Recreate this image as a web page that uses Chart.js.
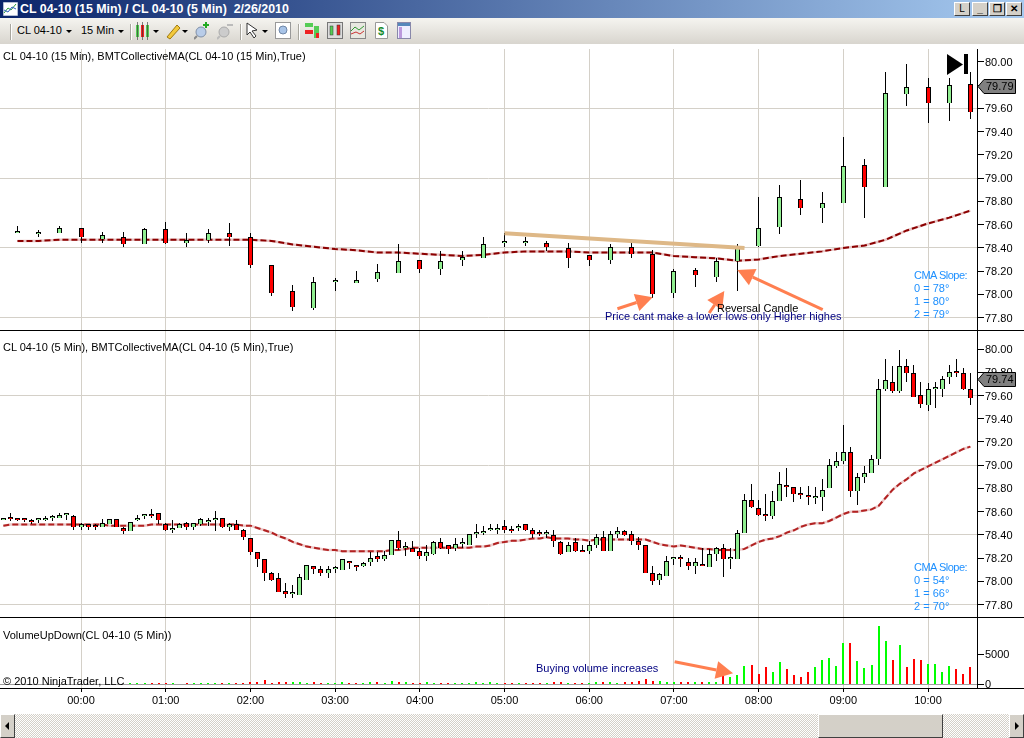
<!DOCTYPE html>
<html>
<head>
<meta charset="utf-8">
<title>CL 04-10</title>
<style>
  html, body { margin:0; padding:0; background:#fff; overflow:hidden; }
  body { width:1024px; height:738px; position:relative; font:11px "Liberation Sans", Arial, sans-serif; color:#000; }
  canvas { position:absolute; left:0; }
  .abs { position:absolute; white-space:nowrap; }
  .note { position:absolute; white-space:nowrap; font-size:11px; line-height:13px; z-index:5; }
  .rule { position:absolute; left:0; width:1024px; height:1px; background:#000; z-index:4; }
  .slope span { letter-spacing:-.5px; }
  #titlebar { position:absolute; left:0; top:0; width:1024px; height:18px; background:linear-gradient(90deg,#0a246a,#a6caf0); }
  #titlebar .t { position:absolute; left:20px; top:2px; color:#fff; font:bold 12.4px "Liberation Sans", Arial, sans-serif; white-space:pre; }
  .wb { position:absolute; top:2px; width:14px; height:12px; background:#d4d0c8; border:1px solid; border-color:#fff #404040 #404040 #fff; font:bold 10px/12px "Liberation Sans", Arial, sans-serif; text-align:center; color:#000; }
  #toolbar { position:absolute; left:0; top:18px; width:1024px; height:26px; background:linear-gradient(#f5f4f0,#d8d5ce); }
  .sep { position:absolute; top:6px; width:1px; height:16px; background:#a8a69e; border-right:1px solid #fff; }
  .dd { position:absolute; top:12px; width:0; height:0; border-left:3px solid transparent; border-right:3px solid transparent; border-top:3px solid #000; }
  #toolbar svg { position:absolute; top:4px; }
  #scroll { position:absolute; left:0; top:714px; width:1024px; height:24px; background:repeating-conic-gradient(#d4d0c8 0 25%, #fff 0 50%) 0 0/2px 2px; }
  .sb { position:absolute; top:0; height:22px; background:#d4d0c8; border:1px solid; border-color:#fff #404040 #404040 #fff; }
</style>
</head>
<body>
<div id="titlebar">
  <svg class="abs" style="left:3px;top:2px" width="15" height="14"><rect width="15" height="14" fill="#fff" stroke="#6a7fa8"/><polyline points="1,11 5,6 8,8 13,2" fill="none" stroke="#2a9a3a"/><polyline points="1,8 5,10 9,5 13,7" fill="none" stroke="#3060c0"/></svg>
  <div class="t">CL 04-10 (15 Min) / CL 04-10 (5 Min)  2/26/2010</div>
  <div class="wb" style="left:954px;background:#d4d0c8;font-weight:normal">L</div>
  <div class="wb" style="left:972px">_</div>
  <div class="wb" style="left:989px">&#10064;</div>
  <div class="wb" style="left:1006px">&#10005;</div>
</div>
<div id="toolbar">
  <div class="sep" style="left:10px"></div>
  <div class="abs" style="left:17px;top:6px;font-size:11px">CL 04-10</div><div class="dd" style="left:66px"></div>
  <div class="abs" style="left:81px;top:6px;font-size:11px">15 Min</div><div class="dd" style="left:118px"></div>
  <div class="sep" style="left:130px"></div>
  <svg style="left:135px" width="16" height="18"><rect x="1" y="3" width="3" height="12" fill="#5c5"/><rect x="6" y="3" width="3" height="12" fill="#e22"/><rect x="11" y="3" width="3" height="12" fill="#5c5"/><path d="M2.5 0v18M7.5 0v18M12.5 0v18" stroke="#333" stroke-width=".6"/></svg><div class="dd" style="left:153px"></div>
  <svg style="left:165px" width="16" height="18"><path d="M2 15 L12 3 L15 6 L5 17 Z" fill="#f3c93c" stroke="#a07a10"/></svg><div class="dd" style="left:182px"></div>
  <svg style="left:194px" width="17" height="18"><circle cx="7" cy="10" r="5" fill="#b8cce8" stroke="#8090a8"/><path d="M3 14l-3 3" stroke="#888" stroke-width="2"/><path d="M12 0v6M9 3h6" stroke="#2a2" stroke-width="2"/></svg>
  <svg style="left:217px" width="17" height="18"><circle cx="7" cy="10" r="5" fill="#ccc" stroke="#aaa"/><path d="M3 14l-3 3" stroke="#bbb" stroke-width="2"/><path d="M10 3h6" stroke="#bbb" stroke-width="2"/></svg>
  <div class="sep" style="left:240px"></div>
  <svg style="left:246px" width="14" height="18"><path d="M1 1 L1 13 L4 10 L8 16 L10 14 L6 9 L11 8 Z" fill="#fff" stroke="#333"/></svg><div class="dd" style="left:262px"></div>
  <svg style="left:275px" width="16" height="18"><rect x=".5" y=".5" width="15" height="16" fill="#fff" stroke="#999"/><circle cx="8" cy="8" r="4" fill="#a8c4e8" stroke="#7088a8"/></svg>
  <div class="sep" style="left:298px"></div>
  <svg style="left:304px" width="16" height="18"><rect x="1" y="1" width="8" height="4" fill="#5c5"/><rect x="1" y="8" width="8" height="4" fill="#e22"/><rect x="10" y="4" width="5" height="12" fill="#5c5"/><rect x="12" y="11" width="3" height="5" fill="#e22"/></svg>
  <svg style="left:327px" width="16" height="18"><rect x=".5" y=".5" width="15" height="16" fill="#ddd" stroke="#777"/><rect x="3" y="4" width="3" height="9" fill="#5c5" stroke="#333" stroke-width=".5"/><rect x="10" y="3" width="3" height="10" fill="#e22" stroke="#333" stroke-width=".5"/></svg>
  <svg style="left:350px" width="16" height="18"><rect x=".5" y=".5" width="15" height="16" fill="#e8e8e0" stroke="#888"/><polyline points="1,9 5,5 9,8 14,4" fill="none" stroke="#393"/><polyline points="1,12 6,10 10,12 14,9" fill="none" stroke="#c33"/></svg>
  <svg style="left:375px" width="13" height="18"><path d="M.5 .5H9L12.5 4V16.5H.5Z" fill="#fff" stroke="#999"/><text x="3" y="13" font-size="11" font-weight="bold" fill="#168a2c" font-family="Liberation Sans">$</text></svg>
  <svg style="left:397px" width="14" height="18"><rect x=".5" y=".5" width="13" height="16" fill="#eef" stroke="#88a"/><rect x="1" y="1" width="12" height="3" fill="#58b"/><rect x="2" y="5" width="3" height="11" fill="#b9d"/></svg>
</div>

<canvas id="panel15" width="1024" height="281" style="top:49px"></canvas>
<canvas id="panel5" width="1024" height="286" style="top:331px"></canvas>
<canvas id="panelVol" width="1024" height="96" style="top:618px"></canvas>

<div class="rule" style="top:330px"></div>
<div class="rule" style="top:617px"></div>
<div class="rule" style="top:688px"></div>

<div class="note" style="left:3px;top:50px">CL 04-10 (15 Min), BMTCollectiveMA(CL 04-10 (15 Min),True)</div>
<div class="note" style="left:3px;top:341px">CL 04-10 (5 Min), BMTCollectiveMA(CL 04-10 (5 Min),True)</div>
<div class="note" style="left:3px;top:629px">VolumeUpDown(CL 04-10 (5 Min))</div>
<div class="note" style="left:3px;top:675px">&copy; 2010 NinjaTrader, LLC</div>
<div class="note" style="left:717px;top:302px">Reversal Candle</div>
<div class="note" style="left:605px;top:310px;color:#000080">Price cant make a lower lows only Higher highes</div>
<div class="note" style="left:536px;top:662px;color:#000080">Buying volume increases</div>
<div class="note slope" style="left:914px;top:269px;color:#1e90ff"><span>CMA Slope:</span><br>0 = 78&deg;<br>1 = 80&deg;<br>2 = 79&deg;</div>
<div class="note slope" style="left:914px;top:561px;color:#1e90ff"><span>CMA Slope:</span><br>0 = 54&deg;<br>1 = 66&deg;<br>2 = 70&deg;</div>
<svg class="abs" style="left:947px;top:54px;z-index:5" width="22" height="22"><path d="M0 0L16 10.5L0 21Z" fill="#000"/><rect x="17" y="0" width="4" height="20" fill="#000"/></svg>

<div id="scroll">
  <div class="sb" style="left:0;width:13px"><svg width="13" height="22"><path d="M4 11l4-4v8z" fill="#000"/></svg></div>
  <div class="sb" style="left:818px;width:123px"></div>
  <div class="sb" style="left:1009px;width:13px"><svg width="13" height="22"><path d="M9 11l-4-4v8z" fill="#000"/></svg></div>
</div>

<script src="https://cdn.jsdelivr.net/npm/chart.js"></script>
<script>
// x axis is minutes from midnight, 23:15 = -45
const hourTicks = [0,60,120,180,240,300,360,420,480,540,600];
const hourLabels = ["00:00","01:00","02:00","03:00","04:00","05:00","06:00","07:00","08:00","09:00","10:00"];
const priceTicks = [80,79.8,79.6,79.4,79.2,79,78.8,78.6,78.4,78.2,78,77.8];
const priceGrid = [79.6,79,78.4,77.8];
const volumeTicks = [0,5000];

// 15 min candles
const open15 = [78.53,78.52,78.53,78.57,78.48,78.49,78.43,78.56,78.44,78.47,78.53,78.49,78.25,78.03,77.88,78.11,78.10,78.13,78.18,78.30,78.22,78.30,78.31,78.44,78.44,78.44,78.40,78.34,78.30,78.41,78.35,78.01,78.21,78.15,78.29,78.42,78.58,78.82,78.74,78.79,79.11,78.92,79.72,79.78,79.65,79.81];
const high15 = [78.59,78.55,78.59,78.57,78.54,78.54,78.57,78.62,78.53,78.56,78.61,78.53,78.25,78.08,78.15,78.14,78.20,78.26,78.43,78.30,78.37,78.37,78.49,78.53,78.49,78.46,78.44,78.34,78.43,78.44,78.38,78.22,78.23,78.31,78.43,78.84,78.94,78.98,78.88,79.35,79.16,79.91,79.98,79.86,79.86,79.91];
const low15 = [78.53,78.49,78.53,78.44,78.44,78.41,78.43,78.43,78.41,78.44,78.42,78.23,77.99,77.86,77.87,78.03,78.10,78.11,78.18,78.18,78.17,78.24,78.31,78.41,78.42,78.37,78.23,78.24,78.26,78.31,77.97,77.97,78.06,78.11,78.03,78.41,78.52,78.68,78.61,78.79,78.66,78.92,79.62,79.47,79.49,79.51];
const close15 = [78.53,78.52,78.57,78.49,78.51,78.43,78.56,78.44,78.47,78.53,78.49,78.25,78.01,77.89,78.11,78.11,78.12,78.19,78.29,78.22,78.29,78.32,78.43,78.44,78.44,78.41,78.31,78.30,78.41,78.35,78.00,78.20,78.17,78.29,78.40,78.57,78.84,78.74,78.79,79.10,78.92,79.73,79.78,79.65,79.80,79.57];
const ma15 = [78.46,78.46,78.47,78.47,78.47,78.47,78.47,78.47,78.47,78.47,78.47,78.47,78.46,78.43,78.41,78.39,78.38,78.36,78.36,78.35,78.34,78.33,78.34,78.36,78.37,78.37,78.37,78.36,78.36,78.36,78.36,78.33,78.32,78.31,78.29,78.30,78.33,78.35,78.37,78.40,78.42,78.47,78.55,78.61,78.66,78.72];

// 5 min candles
const open5 = [78.53,78.55,78.55,78.54,78.53,78.53,78.53,78.55,78.55,78.57,
  78.56,78.47,78.49,78.48,78.47,78.49,78.54,78.46,78.43,78.53,
  78.56,78.57,78.59,78.49,78.44,78.46,78.50,78.47,78.49,78.51,
  78.53,78.55,78.47,78.49,78.44,78.37,78.25,78.19,78.07,78.03,
  77.92,77.89,77.88,78.01,78.13,78.11,78.07,78.11,78.10,78.18,
  78.14,78.13,78.17,78.22,78.19,78.23,78.36,78.29,78.29,78.26,
  78.22,78.24,78.34,78.31,78.29,78.32,78.31,78.41,78.42,78.44,
  78.44,78.48,78.44,78.46,78.49,78.44,78.42,78.41,78.40,78.34,
  78.25,78.34,78.26,78.26,78.31,78.38,78.26,78.41,78.43,78.41,
  78.35,78.31,78.07,78.01,78.05,78.19,78.21,78.17,78.13,78.15,
  78.12,78.24,78.29,78.19,78.19,78.42,78.70,78.63,78.58,78.56,
  78.69,78.82,78.81,78.75,78.74,78.72,78.73,78.80,78.99,79.04,
  79.11,78.78,78.90,78.93,79.05,79.66,79.72,79.64,79.85,79.79,
  79.60,79.52,79.66,79.66,79.76,79.81,79.79,79.66];
const high5 = [78.55,78.59,78.55,78.54,78.54,78.55,78.56,78.57,78.59,78.57,
  78.57,78.50,78.49,78.49,78.54,78.54,78.54,78.47,78.51,78.57,
  78.58,78.62,78.59,78.50,78.53,78.50,78.51,78.50,78.55,78.55,
  78.61,78.55,78.50,78.53,78.45,78.37,78.25,78.19,78.08,78.07,
  77.99,77.97,78.06,78.14,78.13,78.13,78.13,78.13,78.19,78.18,
  78.14,78.17,78.25,78.25,78.26,78.36,78.43,78.34,78.35,78.29,
  78.31,78.35,78.37,78.31,78.37,78.37,78.41,78.49,78.48,78.49,
  78.49,78.53,78.48,78.49,78.49,78.46,78.44,78.44,78.44,78.35,
  78.34,78.37,78.31,78.35,78.41,78.43,78.43,78.47,78.44,78.43,
  78.38,78.31,78.13,78.07,78.22,78.20,78.23,78.20,78.20,78.29,
  78.28,78.30,78.32,78.29,78.44,78.75,78.84,78.70,78.75,78.78,
  78.94,78.98,78.81,78.81,78.82,78.81,78.88,79.05,79.11,79.35,
  79.16,78.93,78.99,79.09,79.74,79.91,79.85,79.99,79.91,79.86,
  79.72,79.71,79.72,79.77,79.86,79.91,79.84,79.79];
const low5 = [78.53,78.52,78.52,78.51,78.49,78.50,78.52,78.52,78.55,78.53,
  78.44,78.44,78.44,78.44,78.47,78.49,78.47,78.41,78.43,78.52,
  78.54,78.55,78.49,78.43,78.42,78.46,78.44,78.44,78.48,78.48,
  78.43,78.46,78.43,78.44,78.36,78.23,78.12,78.00,78.00,77.91,
  77.86,77.86,77.88,78.01,78.06,78.05,78.03,78.07,78.10,78.11,
  78.09,78.12,78.13,78.17,78.18,78.23,78.27,78.22,78.25,78.19,
  78.18,78.23,78.28,78.24,78.26,78.29,78.31,78.37,78.40,78.43,
  78.41,78.42,78.42,78.43,78.43,78.37,78.39,78.37,78.30,78.23,
  78.25,78.25,78.25,78.24,78.29,78.26,78.26,78.37,78.39,78.31,
  78.27,78.07,77.97,77.97,78.05,78.14,78.12,78.10,78.06,78.13,
  78.12,78.18,78.04,78.11,78.19,78.42,78.63,78.56,78.52,78.54,
  78.69,78.73,78.68,78.71,78.66,78.67,78.61,78.80,78.98,79.01,
  78.73,78.66,78.85,78.93,79.00,79.64,79.62,79.62,79.72,79.59,
  79.49,79.47,79.49,79.59,79.70,79.76,79.65,79.52];
const close5 = [78.55,78.54,78.53,78.53,78.51,78.53,78.55,78.56,78.57,78.57,
  78.47,78.49,78.47,78.47,78.50,78.54,78.47,78.43,78.51,78.55,
  78.56,78.56,78.53,78.44,78.46,78.49,78.47,78.50,78.54,78.53,
  78.55,78.47,78.49,78.44,78.38,78.25,78.19,78.07,78.01,77.91,
  77.89,77.89,78.04,78.14,78.11,78.07,78.11,78.11,78.19,78.16,
  78.12,78.16,78.20,78.19,78.23,78.36,78.29,78.29,78.25,78.22,
  78.25,78.34,78.29,78.28,78.32,78.32,78.41,78.41,78.43,78.44,
  78.46,78.44,78.43,78.48,78.44,78.41,78.41,78.41,78.35,78.24,
  78.31,78.26,78.25,78.31,78.38,78.26,78.41,78.43,78.40,78.35,
  78.31,78.07,78.00,78.06,78.18,78.20,78.19,78.13,78.17,78.13,
  78.24,78.29,78.19,78.20,78.42,78.70,78.64,78.57,78.56,78.69,
  78.84,78.81,78.75,78.74,78.73,78.73,78.79,79.00,79.04,79.11,
  78.78,78.90,78.93,79.05,79.66,79.73,79.64,79.85,79.79,79.59,
  79.53,79.66,79.66,79.74,79.80,79.79,79.66,79.58];
const ma5 = [78.48,78.49,78.49,78.49,78.49,78.49,78.49,78.49,78.49,78.49,
  78.49,78.49,78.49,78.49,78.49,78.48,78.48,78.48,78.48,78.48,
  78.48,78.49,78.49,78.49,78.49,78.49,78.49,78.49,78.49,78.49,
  78.49,78.49,78.49,78.49,78.48,78.48,78.46,78.44,78.42,78.39,
  78.37,78.34,78.32,78.30,78.29,78.28,78.27,78.27,78.26,78.26,
  78.26,78.26,78.26,78.26,78.26,78.27,78.27,78.28,78.29,78.29,
  78.29,78.29,78.29,78.29,78.29,78.29,78.29,78.30,78.30,78.31,
  78.33,78.34,78.35,78.35,78.36,78.37,78.37,78.38,78.37,78.37,
  78.37,78.36,78.36,78.35,78.36,78.36,78.36,78.36,78.36,78.36,
  78.36,78.36,78.34,78.32,78.31,78.30,78.31,78.30,78.29,78.28,
  78.28,78.27,78.27,78.27,78.27,78.28,78.31,78.34,78.36,78.37,
  78.39,78.42,78.44,78.47,78.49,78.50,78.50,78.52,78.55,78.58,
  78.60,78.60,78.61,78.62,78.65,78.72,78.79,78.84,78.88,78.93,
  78.96,78.99,79.02,79.05,79.08,79.11,79.14,79.16];

// the first bars sit behind the copyright text, nothing readable there
const volume5 = [0,0,0,0,0,0,0,0,0,0,
  0,0,0,0,0,0,0,0,170,170,
  170,170,170,170,170,0,170,170,170,170,
  170,170,170,170,170,330,330,660,170,330,
  330,330,330,170,330,170,170,170,330,170,
  170,170,330,330,170,550,330,330,170,170,
  330,170,170,170,170,170,170,330,170,330,
  170,170,170,170,170,170,170,170,330,330,
  170,170,170,170,330,330,330,170,330,330,
  500,850,500,500,330,330,330,330,330,330,
  330,330,1430,1200,1500,3000,3200,1650,2900,2000,
  3600,2500,1500,1150,2000,2900,4000,4300,3000,6800,
  6800,3800,2650,3150,9600,7150,4000,6450,2800,4100,
  3950,3300,3300,2000,3000,2500,1650,2800];

// trend line and arrows, in minutes / price
const trendLine15 = [{x:300,y:78.526},{x:470,y:78.40}];
const arrows15 = [[380,77.877,405,77.975],[445,77.84,455.7,78.03],[525.4,77.87,464.9,78.21]];
const arrowsVol = [[420.5,3730,461.9,1815]];
const lastPrice15 = 79.79;
const lastPrice5 = 79.74;

const times15 = open15.map((v,i)=>-45+15*i);
const times5 = open5.map((v,i)=>-55+5*i);

const GRID = '#d4d0c8', UP = '#90ee90', DOWN = '#ff0000', AXIS_FONT = {family:'"Liberation Sans", Arial, sans-serif', size:11};
Chart.defaults.animation = false;
Chart.defaults.responsive = false;
Chart.defaults.devicePixelRatio = 1;

// keep candles crisp, the library gives fractional pixels
const snapBars = {
  id:'snapBars',
  afterDatasetsUpdate(chart){
    chart.data.datasets.forEach((d,i)=>{
      if(d.type==='line') return;
      chart.getDatasetMeta(i).data.forEach(el=>{
        el.x = el.width%2===1 ? Math.floor(el.x)+0.5 : Math.round(el.x);
        el.y = Math.round(el.y);
        el.base = Math.round(el.base);
      });
    });
  }
};

function drawArrow(ctx,x0,y0,x1,y1){
  const a = Math.atan2(y1-y0,x1-x0), len = 17, wing = 9;
  const bx = x1-Math.cos(a)*len, by = y1-Math.sin(a)*len;
  ctx.save();
  ctx.strokeStyle = ctx.fillStyle = '#ff7f50';
  ctx.lineWidth = 3;
  ctx.beginPath(); ctx.moveTo(x0,y0); ctx.lineTo(bx,by); ctx.stroke();
  ctx.beginPath(); ctx.moveTo(x1,y1);
  ctx.lineTo(bx-Math.sin(a)*wing,by+Math.cos(a)*wing);
  ctx.lineTo(bx+Math.sin(a)*wing,by-Math.cos(a)*wing);
  ctx.closePath(); ctx.fill();
  ctx.restore();
}

function marksPlugin(arrows,lastPrice){
  return {
    id:'marks',
    afterDraw(chart){
      const ctx = chart.ctx, xs = chart.scales.x, ys = chart.scales.y;
      arrows.forEach(a=>drawArrow(ctx,xs.getPixelForValue(a[0]),ys.getPixelForValue(a[1]),xs.getPixelForValue(a[2]),ys.getPixelForValue(a[3])));
      if(lastPrice==null) return;
      const y = Math.round(ys.getPixelForValue(lastPrice))+0.5, l = xs.right+1;
      ctx.save();
      ctx.fillStyle = '#808080'; ctx.strokeStyle = '#000';
      ctx.beginPath(); ctx.moveTo(l,y); ctx.lineTo(l+6,y-7); ctx.lineTo(1015.5,y-7); ctx.lineTo(1015.5,y+7); ctx.lineTo(l+6,y+7); ctx.closePath();
      ctx.fill(); ctx.stroke();
      ctx.fillStyle = '#000'; ctx.font = '11px "Liberation Sans", Arial, sans-serif';
      ctx.textBaseline = 'middle'; ctx.fillText(lastPrice.toFixed(2),986,y+0.5);
      ctx.restore();
    }
  };
}

function xScale(showLabels){
  return {
    type:'linear', min:-57.38, max:634.7, offset:false,
    afterBuildTicks:s=>{ s.ticks = hourTicks.map(v=>({value:v})); },
    afterFit:s=>{ s.height = showLabels ? 26 : 0; s.paddingLeft = 0; s.paddingRight = 0; },
    grid:{color:GRID, offset:false, drawTicks:showLabels, tickColor:'#000', tickLength:4},
    border:{display:false},
    ticks:{display:showLabels, autoSkip:false, maxRotation:0, padding:2, color:'#000', font:AXIS_FONT,
      callback:(v,i)=>hourLabels[i]}
  };
}

function yScale(min,max,ticks,gridFor,fmt){
  return {
    type:'linear', position:'right', min:min, max:max,
    afterBuildTicks:s=>{ s.ticks = ticks.map(v=>({value:v})); },
    afterFit:s=>{ s.width = 47; s.paddingTop = 0; s.paddingBottom = 0; },
    grid:{color:c=>gridFor(c.tick&&c.tick.value), tickColor:'#000', tickLength:7},
    border:{color:'#000'},
    ticks:{padding:1, labelOffset:1, color:'#000', font:AXIS_FONT, autoSkip:false, callback:fmt}
  };
}

function candleChart(id,times,o,h,l,c,ma,maColor,maHalo,yMin,yMax,lastPrice,arrows,extra){
  const wicks = times.map((t,i)=>({x:t,y:[l[i],h[i]]}));
  const bodies = times.map((t,i)=>({x:t,y:[Math.min(o[i],c[i]),Math.max(o[i],c[i])]}));
  const maPts = times.map((t,i)=>({x:t,y:ma[i]}));
  return new Chart(document.getElementById(id),{
    type:'bar',
    data:{datasets:[
      ...extra,
      {type:'bar', data:bodies, grouped:false, order:1, barThickness:5, minBarLength:2, inflateAmount:0,
        backgroundColor:times.map((t,i)=>c[i]>=o[i]?UP:DOWN), borderColor:'#000', borderWidth:1},
      {type:'bar', data:wicks, grouped:false, order:2, barThickness:1, inflateAmount:0, backgroundColor:'#000', borderWidth:0},
      {type:'line', data:maPts, order:3, borderColor:maColor, borderWidth:2, borderDash:[6,3], pointRadius:0, tension:0},
      {type:'line', data:maPts, order:4, borderColor:maHalo, borderWidth:2.5, pointRadius:0, tension:0}
    ]},
    options:{
      layout:{padding:0},
      plugins:{legend:{display:false}, tooltip:{enabled:false}},
      scales:{
        x:xScale(false),
        y:yScale(yMin,yMax,priceTicks,v=>priceGrid.includes(v)?GRID:'rgba(0,0,0,0)',v=>Number(v).toFixed(2))
      }
    },
    plugins:[snapBars,marksPlugin(arrows,lastPrice)]
  });
}

candleChart('panel15',times15,open15,high15,low15,close15,ma15,'#8b0000','#e8c4c4',77.694,80.11,lastPrice15,arrows15,
  [{type:'line', data:trendLine15, order:0, borderColor:'#deb887', borderWidth:4, pointRadius:0}]);
candleChart('panel5',times5,open5,high5,low5,close5,ma5,'#b22222','#eccaca',77.694,80.155,lastPrice5,[],[]);

new Chart(document.getElementById('panelVol'),{
  type:'bar',
  data:{datasets:[{
    data:times5.map((t,i)=>({x:t,y:volume5[i]})),
    barThickness:2, inflateAmount:0, borderWidth:0,
    backgroundColor:times5.map((t,i)=>close5[i]>=open5[i]?'#00ff00':'#ff0000')
  }]},
  options:{
    layout:{padding:0},
    plugins:{legend:{display:false}, tooltip:{enabled:false}},
    scales:{
      x:xScale(true),
      y:yScale(-610,10940,volumeTicks,v=>v===0?'#a0a0a0':'rgba(0,0,0,0)',v=>String(v))
    }
  },
  plugins:[snapBars,marksPlugin(arrowsVol,null)]
});
</script>
</body>
</html>
